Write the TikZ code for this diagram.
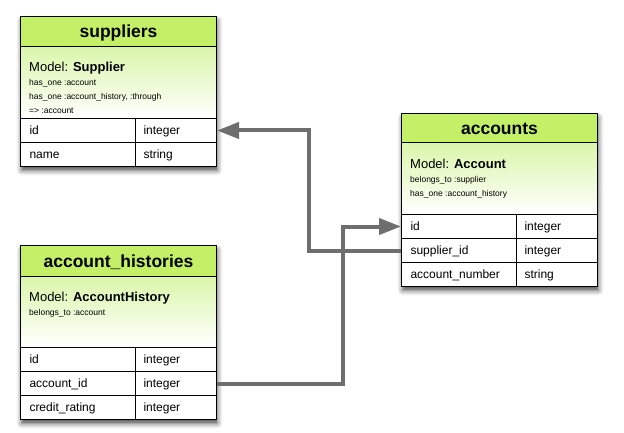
\documentclass[tikz,border=0pt]{standalone}
\usepackage{fontspec}
\setmainfont{Liberation Sans}
\usetikzlibrary{arrows.meta,shadows.blur}
\definecolor{hdr}{RGB}{196,240,104}
\definecolor{mtop}{RGB}{218,246,170}
\definecolor{conn}{RGB}{110,110,110}
\tikzset{
 tablebg/.style={draw=black,line width=1pt,fill=white,inner sep=0pt,anchor=north west,minimum width=196pt,
   blur shadow={shadow xshift=1pt,shadow yshift=-4pt,shadow blur radius=5pt,shadow opacity=70}},
 hdrbox/.style={draw=black,line width=1pt,fill=hdr,inner sep=0pt,anchor=north west,minimum width=196pt,
   font=\fontsize{17.5}{20}\selectfont\bfseries,text height=12.5pt,text depth=0pt},
 modelbox/.style={draw=black,line width=1pt,top color=mtop,bottom color=white,inner sep=0pt,anchor=north west,minimum width=196pt},
 namecell/.style={draw=black,line width=1pt,fill=white,anchor=north west,inner xsep=9pt,inner ysep=0pt,
   text width=97pt,align=left,minimum height=24pt,font=\fontsize{12}{14}\selectfont,text height=8.6pt,text depth=0pt},
 typecell/.style={namecell,inner xsep=8pt,text width=65pt},
 modeltitle/.style={anchor=base west,inner sep=0pt,font=\fontsize{13}{15}\selectfont},
 modelnote/.style={anchor=base west,inner sep=0pt,font=\fontsize{8.5}{10}\selectfont},
 link/.style={draw=conn,line width=4pt,-{Triangle[length=22pt,width=16pt]}},
}
\begin{document}
\begin{tikzpicture}[x=1pt,y=-1pt]
\useasboundingbox (0,0) rectangle (624,433);

% suppliers
\node[tablebg,minimum height=150pt] (sup) at (20,16) {};
\node[hdrbox,minimum height=30pt] (sup-h) at (20,16) {suppliers};
\node[modelbox,minimum height=72pt] (sup-m) at (20,46) {};
\node[modeltitle] (sup-t) at (29,72) {Model: \textbf{Supplier}};
\node[modelnote] (sup-n1) at (29,86) {has\_one :account};
\node[modelnote] (sup-n2) at (29,100) {has\_one :account\_history, :through};
\node[modelnote] (sup-n3) at (29,113.5) {=> :account};
\node[namecell] (sup-id) at (20,118) {id};
\node[typecell] (sup-idt) at (135,118) {integer};
\node[namecell] (sup-name) at (20,142) {name};
\node[typecell] (sup-namet) at (135,142) {string};

% accounts
\node[tablebg,minimum height=173pt] (acc) at (401,113) {};
\node[hdrbox,minimum height=29pt] (acc-h) at (401,113) {accounts};
\node[modelbox,minimum height=72pt] (acc-m) at (401,142) {};
\node[modeltitle] (acc-t) at (410,168) {Model: \textbf{Account}};
\node[modelnote] (acc-n1) at (410,182.5) {belongs\_to :supplier};
\node[modelnote] (acc-n2) at (410,196.5) {has\_one :account\_history};
\node[namecell] (acc-id) at (401,214) {id};
\node[typecell] (acc-idt) at (516,214) {integer};
\node[namecell] (acc-sid) at (401,238) {supplier\_id};
\node[typecell] (acc-sidt) at (516,238) {integer};
\node[namecell] (acc-num) at (401,262) {account\_number};
\node[typecell] (acc-numt) at (516,262) {string};

% account_histories
\node[tablebg,minimum height=174pt] (ah) at (20,245) {};
\node[hdrbox,minimum height=31pt] (ah-h) at (20,245) {account\_histories};
\node[modelbox,minimum height=71pt] (ah-m) at (20,276) {};
\node[modeltitle] (ah-t) at (29,301) {Model: \textbf{AccountHistory}};
\node[modelnote] (ah-n1) at (29,315.5) {belongs\_to :account};
\node[namecell] (ah-id) at (20,347) {id};
\node[typecell] (ah-idt) at (135,347) {integer};
\node[namecell] (ah-aid) at (20,371) {account\_id};
\node[typecell] (ah-aidt) at (135,371) {integer};
\node[namecell] (ah-cr) at (20,395) {credit\_rating};
\node[typecell] (ah-crt) at (135,395) {integer};

% connectors
\coordinate (bendA) at (309,0);
\coordinate (bendB) at (343,0);
\draw[link] (acc-sid.west) -- (acc-sid.west -| bendA) |- (sup-idt.east);
\draw[link] (ah-aidt.east) -- (ah-aidt.east -| bendB) |- (acc-id.west);
\end{tikzpicture}
\end{document}
